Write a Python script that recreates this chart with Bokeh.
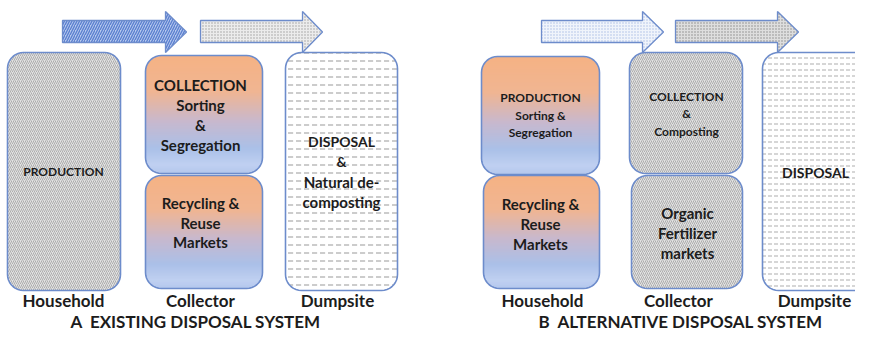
import numpy as np
from bokeh.plotting import figure
from bokeh.models import Range1d
from bokeh.core.properties import value
from bokeh.embed import file_html
from bokeh.resources import INLINE

FONT = "Lato"
OUTLINE = "#6d8ccb"
TXT = "#1c1c1c"

# ---- layout tables (reference pixel coordinates) ----
box_left = [7, 145, 145, 285, 481, 483, 629, 631, 762]
box_right = [120, 262, 262, 397, 599, 599, 742, 742, 880]
box_top = [52, 55, 175, 52, 56, 175, 52, 175, 52]
box_bottom = [290, 173, 288, 290, 174, 288, 173, 288, 290]
box_style = ["diag", "grad", "grad", "dash", "grad", "grad", "diag", "diag", "dash2"]

arrow_x0 = [62, 200, 541, 675]
arrow_xb = [165, 302, 642, 777]
arrow_xt = [186, 322, 663, 798]
arrow_style = ["blue_diag", "grey_dot", "lblue_dot", "dgrey_dot"]

box_text_x = [63, 200, 200, 200, 200, 200, 200, 200, 341, 341, 341, 341,
              540, 540, 540, 540, 540, 540, 686, 686, 686, 687, 687, 687, 815]
box_text_y = [171, 84, 104, 124, 144, 202, 222, 241, 141, 161, 181, 201,
              97, 115, 132, 203, 223, 243, 96, 113, 131, 212, 232, 252, 172]
box_text = ["PRODUCTION", "COLLECTION", "Sorting", "&", "Segregation",
            "Recycling &", "Reuse", "Markets",
            "DISPOSAL", "&", "Natural de-", "composting",
            "PRODUCTION", "Sorting &", "Segregation",
            "Recycling &", "Reuse", "Markets",
            "COLLECTION", "&", "Composting",
            "Organic", "Fertilizer", "markets", "DISPOSAL"]
box_text_size = ["12px", "15px", "15px", "15px", "15px", "15px", "15px", "15px",
                 "14px", "14px", "15px", "15px",
                 "12px", "12px", "12px", "15px", "15px", "15px",
                 "12px", "12px", "12px", "15px", "15px", "15px", "14px"]

stage_labels = ["Household", "Collector", "Dumpsite", "Household", "Collector", "Dumpsite"]
stage_x = [63, 200, 337, 542, 678, 814]
panel_titles = ["A\u00a0\u00a0EXISTING DISPOSAL SYSTEM", "B\u00a0\u00a0ALTERNATIVE DISPOSAL SYSTEM"]
panel_title_x = [195, 680]


def rrect(l, r, t, b, rad=16, n=10):
    xs, ys = [], []
    corners = [(r - rad, t + rad, -90, 0), (r - rad, b - rad, 0, 90),
               (l + rad, b - rad, 90, 180), (l + rad, t + rad, 180, 270)]
    for cx, cy, a0, a1 in corners:
        for a in np.linspace(np.radians(a0), np.radians(a1), n):
            xs.append(cx + rad * np.cos(a))
            ys.append(cy + rad * np.sin(a))
    return xs, ys


def inset(l, r, t, b, y, rad=16):
    if y < t + rad:
        d = t + rad - y
    elif y > b - rad:
        d = y - (b - rad)
    else:
        return 0.0
    d = min(d, rad)
    return rad - np.sqrt(max(rad * rad - d * d, 0.0))


stops_t = [0.0, 0.3, 0.55, 0.78, 0.92, 1.0]
stops_c = [(245, 178, 132), (240, 181, 146), (200, 184, 205), (170, 192, 232),
           (192, 208, 241), (178, 198, 236)]


def grad_color(t):
    for i in range(len(stops_t) - 1):
        if stops_t[i] <= t <= stops_t[i + 1]:
            f = (t - stops_t[i]) / (stops_t[i + 1] - stops_t[i])
            c = [int(round(stops_c[i][k] + f * (stops_c[i + 1][k] - stops_c[i][k]))) for k in range(3)]
            return "#%02x%02x%02x" % tuple(c)
    return "#%02x%02x%02x" % stops_c[-1]


p = figure(width=855, height=333, output_backend="svg", toolbar_location=None,
           x_range=Range1d(0, 855), y_range=Range1d(333, 0), min_border=0)
p.axis.visible = False
p.grid.visible = False
p.outline_line_color = None
p.background_fill_color = "white"

styles = {
    "diag": dict(fill_color="#e2e2e2", hatch_pattern="/", hatch_color="#adadad", hatch_scale=4, hatch_weight=1),
    "dash": dict(fill_color="#ffffff", hatch_pattern='"', hatch_color="#b0b0b0", hatch_scale=8, hatch_weight=1.3),
    "dash2": dict(fill_color="#ffffff", hatch_pattern='"', hatch_color="#b4b4b4", hatch_scale=6, hatch_weight=1.1),
    "blue_diag": dict(fill_color="#b8caee", hatch_pattern="/", hatch_color="#5b80d0", hatch_scale=5, hatch_weight=1.4),
    "grey_dot": dict(fill_color="#ececec", hatch_pattern=".", hatch_color="#9c9c9c", hatch_scale=3, hatch_weight=1),
    "lblue_dot": dict(fill_color="#f0f4fb", hatch_pattern=".", hatch_color="#a9bde4", hatch_scale=3, hatch_weight=1),
    "dgrey_dot": dict(fill_color="#dedede", hatch_pattern=".", hatch_color="#8a8a8a", hatch_scale=3, hatch_weight=1),
}

for x0, xb, xt, st in zip(arrow_x0, arrow_xb, arrow_xt, arrow_style):
    ax = [x0, xb, xb, xt, xb, xb, x0]
    ay = [20, 20, 11, 31.5, 52, 42, 42]
    p.patch(ax, ay, line_color=OUTLINE, line_width=1.3, **styles[st])

for l, r, t, b, st in zip(box_left, box_right, box_top, box_bottom, box_style):
    xs, ys = rrect(l, r, t, b)
    if st == "grad":
        sx, sy, sc = [], [], []
        step = 1.5
        y = t
        while y < b:
            y1 = min(y + step, b)
            d0 = inset(l, r, t, b, y)
            d1 = inset(l, r, t, b, y1)
            sx.append([l + d0, r - d0, r - d1, l + d1])
            sy.append([y, y, y1 + 0.6, y1 + 0.6])
            sc.append(grad_color((y - t) / (b - t)))
            y = y1
        p.patches(sx, sy, fill_color=sc, line_color=None)
        p.patch(xs, ys, fill_color=None, line_color=OUTLINE, line_width=1.6)
    else:
        p.patch(xs, ys, line_color=OUTLINE, line_width=1.6, **styles[st])

p.text(x=box_text_x, y=box_text_y, text=box_text, text_font=value(FONT),
       text_font_style="bold", text_font_size=box_text_size, text_color=TXT,
       text_align="center", text_baseline="middle")

p.text(x=stage_x, y=[300] * len(stage_x), text=stage_labels, text_font=value(FONT),
       text_font_style="bold", text_font_size="17px", text_color=TXT,
       text_align="center", text_baseline="middle")

p.text(x=panel_title_x, y=[321] * 2, text=panel_titles, text_font=value(FONT),
       text_font_style="bold", text_font_size="17px", text_color=TXT,
       text_align="center", text_baseline="middle")

open("out.html", "w").write(file_html(p, INLINE))
